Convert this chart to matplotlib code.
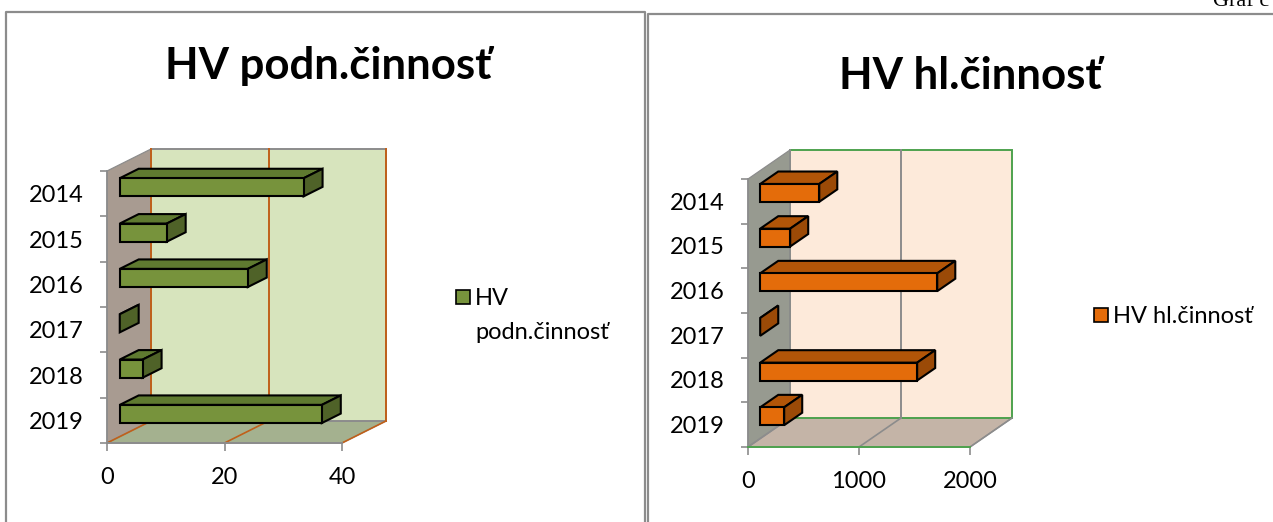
import matplotlib
matplotlib.use('Agg')
import matplotlib.pyplot as plt
from matplotlib.patches import Polygon, Rectangle
from matplotlib.lines import Line2D
from matplotlib import transforms

plt.rcParams['font.family'] = ['Lato', 'DejaVu Sans']

# data
years = ['2014', '2015', '2016', '2017', '2018', '2019']
hv_podn = [31.3, 8.0, 21.8, 0.0, 3.9, 34.4]
hv_hl = [532, 270, 1595, 0, 1414, 216]
podn_ticks = [0, 20, 40]
hl_ticks = [0, 1000, 2000]

W, H = 1273, 522
fig = plt.figure(figsize=(W / 100, H / 100), dpi=100)
GRAY = '#8c8c8c'
FS = 17
ident = transforms.IdentityTransform()


def px_axes(left, top, right, bottom):
    return fig.add_axes([left / W, 1 - bottom / H, (right - left) / W, (bottom - top) / H])


def pt(ax, x, y, d, st):
    # oblique projection: shift by depth fraction d
    X, Y = ax.transData.transform((x, y))
    return (X + d * st['dx'], Y + d * st['dy'])


def face(ax, pts, st, fc, ec, lw, z):
    verts = [pt(ax, x, y, d, st) for x, y, d in pts]
    ax.add_patch(Polygon(verts, closed=True, facecolor=fc, edgecolor=ec, lw=lw,
                         transform=ident, clip_on=False, zorder=z, joinstyle='miter'))


def line3d(ax, pts, st, color, lw, z):
    verts = [pt(ax, x, y, d, st) for x, y, d in pts]
    xs = [v[0] for v in verts]
    ys = [v[1] for v in verts]
    ax.add_line(Line2D(xs, ys, color=color, lw=lw, transform=ident, clip_on=False, zorder=z))


def panel(ax, values, ticks, st):
    n = len(values)
    xmax = ticks[-1]
    ax.set_xlim(0, xmax)
    ax.set_ylim(0, n)
    ax.autoscale(False)
    ax.set_facecolor('none')

    # walls and floor
    face(ax, [(0, 0, 0), (0, n, 0), (0, n, 1), (0, 0, 1)], st, st['side'], GRAY, 0.9, 1)
    face(ax, [(0, 0, 0), (xmax, 0, 0), (xmax, 0, 1), (0, 0, 1)], st, st['floor'], GRAY, 0.9, 1)
    face(ax, [(0, 0, 1), (xmax, 0, 1), (xmax, n, 1), (0, n, 1)], st, st['wall'], st['wall_edge'], 1.4, 1.1)
    for t in ticks:
        line3d(ax, [(t, 0, 0), (t, 0, 1)], st, st['grid'], 1.2, 1.2)
    for t in st['wall_grid']:
        line3d(ax, [(t, 0, 1), (t, n, 1)], st, st['grid'], 1.4, 1.2)

    # bars
    a, b = st['bar_d']
    for i, v in enumerate(values):
        yc = n - i - 0.5
        y0, y1 = yc - 0.2, yc + 0.2
        face(ax, [(0, y1, a), (v, y1, a), (v, y1, b), (0, y1, b)], st, st['bar_top'], 'black', 1.5, 3)
        face(ax, [(v, y0, a), (v, y1, a), (v, y1, b), (v, y0, b)], st, st['bar_side'], 'black', 1.5, 3)
        if v > 0:
            face(ax, [(0, y0, a), (v, y0, a), (v, y1, a), (0, y1, a)], st, st['bar_front'], 'black', 1.5, 3)

    ax.set_xticks(ticks)
    ax.set_xticklabels([str(t) for t in ticks])
    ax.set_yticks([n - i - 0.5 for i in range(n)])
    ax.set_yticklabels(years)
    ax.set_yticks(range(n + 1), minor=True)
    ax.tick_params(axis='y', which='major', length=0, pad=17, labelsize=FS)
    ax.tick_params(axis='y', which='minor', length=5, color=GRAY, width=1.2)
    ax.tick_params(axis='x', length=6, color=GRAY, width=1.2, pad=11, labelsize=FS)
    for s in ['top', 'right']:
        ax.spines[s].set_visible(False)
    ax.spines['left'].set_color(GRAY)
    ax.spines['left'].set_linewidth(1.2)
    ax.spines['bottom'].set_color(st['xaxis'])
    ax.spines['bottom'].set_linewidth(1.4)


left_style = dict(dx=44, dy=22, side='#a89b91', floor='#a4b18f', wall='#d7e4bd',
                  wall_edge=GRAY, grid='#c0601a', wall_grid=podn_ticks, bar_d=(0.29, 0.72),
                  bar_front='#77933c', bar_top='#5f7a30', bar_side='#4f6228', xaxis=GRAY)
right_style = dict(dx=42, dy=29, side='#979a90', floor='#c4b4a7', wall='#fdeada',
                   wall_edge='#4ea24e', grid=GRAY, wall_grid=hl_ticks[:-1], bar_d=(0.29, 0.72),
                   bar_front='#e46c0a', bar_top='#b25508', bar_side='#9b4a07', xaxis='#4ea24e')

ax1 = px_axes(107, 171, 342, 443)
panel(ax1, hv_podn, podn_ticks, left_style)
ax2 = px_axes(748, 179, 970, 447)
panel(ax2, hv_hl, hl_ticks, right_style)

# panel frames
def fline(xs, ys):
    fig.add_artist(Line2D([x / W for x in xs], [1 - y / H for y in ys], color=GRAY, lw=1.6,
                          transform=fig.transFigure))

fline([6, 6, 645, 645], [H + 5, 12, 12, H + 5])
fline([648, 648, W + 5], [H + 5, 14, 14])

# titles
fig.text(328 / W, 1 - 79 / H, 'HV podn.činnosť', ha='center', va='baseline', fontsize=31.5, fontweight='bold')
fig.text(970 / W, 1 - 89 / H, 'HV hl.činnosť', ha='center', va='baseline', fontsize=31.5, fontweight='bold')

# legends
fig.add_artist(Rectangle((456 / W, 1 - 304 / H), 14 / W, 14 / H, facecolor='#77933c',
                         edgecolor='black', lw=1.2, transform=fig.transFigure))
fig.text(475 / W, 1 - 305 / H, 'HV', ha='left', va='baseline', fontsize=FS)
fig.text(475 / W, 1 - 339 / H, 'podn.činnosť', ha='left', va='baseline', fontsize=FS)
fig.add_artist(Rectangle((1094 / W, 1 - 322 / H), 14 / W, 14 / H, facecolor='#e46c0a',
                         edgecolor='black', lw=1.2, transform=fig.transFigure))
fig.text(1113 / W, 1 - 323 / H, 'HV hl.činnosť', ha='left', va='baseline', fontsize=FS)

# caption cut off at the top right, as in the source page
fig.text(1213 / W, 1 - 6 / H, 'Graf č', ha='left', va='baseline', fontsize=16,
         family=['Liberation Serif', 'DejaVu Serif'])

fig.savefig('out.png', dpi=100)
